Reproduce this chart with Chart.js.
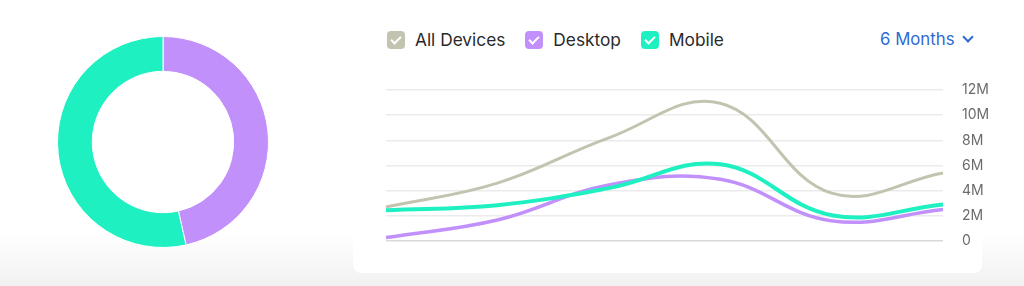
<!DOCTYPE html>
<html>
<head>
<meta charset="utf-8">
<script src="https://cdn.jsdelivr.net/npm/chart.js@4.4.0/dist/chart.umd.min.js"></script>
<style>
  html, body { margin: 0; padding: 0; }
  body {
    width: 1024px; height: 286px; overflow: hidden; position: relative;
    font-family: Inter, "Noto Sans", sans-serif;
    background: linear-gradient(to bottom, #ffffff 0px, #ffffff 232px, #f1f1f1 286px);
  }
  .card {
    position: absolute; left: 353px; top: -10px; width: 629px; height: 283px;
    background: #fff; border-radius: 8px;
  }
  #donut { position: absolute; left: 57px; top: 36px; }
  #lines { position: absolute; left: 380px; top: 80px; }
  .legend { position: absolute; left: 387px; top: 29px; display: flex; }
  .legend .item { display: flex; align-items: center; margin-right: 20px; font-size: 17.3px; color: #2a2a2a; }
  .legend .box {
    width: 18px; height: 18px; border-radius: 4px; margin-right: 10px; position: relative;
  }
  .legend .box::after {
    content: ""; position: absolute; left: 6px; top: 3.5px; width: 4px; height: 8px;
    border: solid #fff; border-width: 0 2px 2px 0; transform: rotate(45deg);
  }
  .range { position: absolute; left: 880px; top: 29px; font-size: 16.8px; color: #2f6ad3; }
  .chev {
    position: absolute; left: 964px; top: 33px; width: 6px; height: 6px;
    border: solid #2f6ad3; border-width: 0 2.5px 2.5px 0; transform: rotate(45deg);
  }
</style>
</head>
<body>
<div class="card"></div>
<canvas id="donut" width="212" height="212"></canvas>
<div class="legend" id="legend"></div>
<div class="range">6 Months</div>
<div class="chev"></div>
<canvas id="lines" width="633" height="171"></canvas>
<script>
var months = ['Jan', 'Feb', 'Mar', 'Apr', 'May', 'Jun'];
var allDevices = [2.7, 4.6, 8.2, 10.95, 3.8, 5.4];
var desktop = [0.27, 1.67, 4.45, 4.9, 1.6, 2.5];
var mobile = [2.45, 2.85, 4.2, 6.1, 2.05, 2.9];
var yTicks = [0, 2, 4, 6, 8, 10, 12];

var shareLabels = ['Desktop', 'Mobile'];
var shareValues = [46.5, 53.5];

var colors = { all: '#c3c4b0', desktop: '#c190fb', mobile: '#1ff0c2' };

// Donut
new Chart(document.getElementById('donut'), {
    type: 'doughnut',
    data: {
        labels: shareLabels,
        datasets: [{
            data: shareValues,
            backgroundColor: [colors.desktop, colors.mobile],
            borderColor: '#ffffff',
            borderWidth: 1
        }]
    },
    options: {
        responsive: false,
        animation: false,
        cutout: '67%',
        layout: { padding: 0 },
        plugins: { legend: { display: false }, tooltip: { enabled: false } }
    }
});

// Line chart
var datasets = [
    { label: 'All Devices', data: allDevices, borderColor: colors.all, borderWidth: 3 },
    { label: 'Desktop', data: desktop, borderColor: colors.desktop, borderWidth: 3.5 },
    { label: 'Mobile', data: mobile, borderColor: colors.mobile, borderWidth: 4 }
];
datasets.forEach(function (d) {
    d.backgroundColor = 'transparent';
    d.pointRadius = 0;
    d.tension = 0.4;
    d.fill = false;
});

// html legend with check boxes
var legend = document.getElementById('legend');
datasets.forEach(function (d) {
    var item = document.createElement('div');
    item.className = 'item';
    var box = document.createElement('span');
    box.className = 'box';
    box.style.background = d.borderColor;
    item.appendChild(box);
    item.appendChild(document.createTextNode(d.label));
    legend.appendChild(item);
});

new Chart(document.getElementById('lines'), {
    type: 'line',
    data: { labels: months, datasets: datasets.slice().reverse() },
    options: {
        responsive: false,
        animation: false,
        layout: { padding: { left: 6, top: 10, bottom: 10, right: 0 } },
        plugins: { legend: { display: false }, tooltip: { enabled: false } },
        scales: {
            x: { display: false },
            y: {
                position: 'right',
                min: 0,
                max: 12,
                afterFit: function (scale) { scale.width = 70; },
                afterBuildTicks: function (scale) {
                    scale.ticks = yTicks.map(function (v) { return { value: v }; });
                },
                border: { display: false },
                grid: {
                    drawTicks: true,
                    tickLength: 19,
                    tickColor: 'transparent',
                    lineWidth: 1.5,
                    color: function (ctx) { return ctx.tick && ctx.tick.value === 0 ? '#d9d9d9' : '#ebebeb'; }
                },
                ticks: {
                    padding: 0,
                    color: '#6b6b6b',
                    font: { family: 'Inter', size: 14 },
                    callback: function (v) { return v === 0 ? '0' : v + 'M'; }
                }
            }
        }
    }
});
</script>
</body>
</html>
